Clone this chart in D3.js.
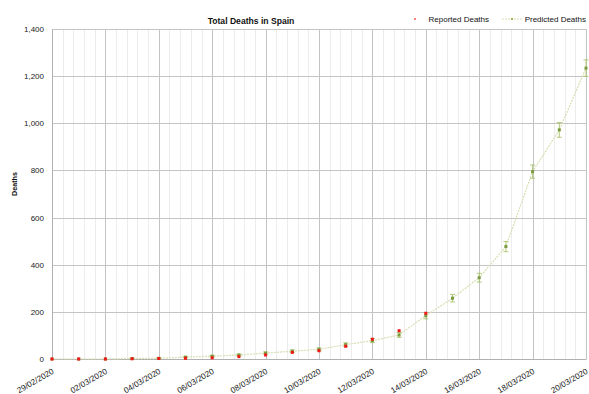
<!DOCTYPE html>
<html>
<head>
<meta charset="utf-8">
<script src="https://cdn.jsdelivr.net/npm/d3@7"></script>
<style>
  body { margin: 0; background: #fff; }
  svg { display: block; font-family: "Liberation Sans", Arial, sans-serif; }
</style>
</head>
<body>
<svg id="chart" width="589" height="394"></svg>
<script>
// Daily dates, 29 Feb to 20 Mar 2020
const dates = ["29/02/2020","01/03/2020","02/03/2020","03/03/2020","04/03/2020","05/03/2020",
  "06/03/2020","07/03/2020","08/03/2020","09/03/2020","10/03/2020","11/03/2020","12/03/2020",
  "13/03/2020","14/03/2020","15/03/2020","16/03/2020","17/03/2020","18/03/2020","19/03/2020","20/03/2020"];

// Cumulative deaths reported so far
const reported = [0, 0, 0, 1, 2, 3, 5, 10, 17, 28, 35, 54, 84, 120, 194];

// Model prediction and its uncertainty (±)
const predicted = [0, 0, 0, 2, 3, 8, 12, 17, 25, 33, 41, 61, 78, 102, 184, 258, 345, 477, 795, 972, 1234];
const predErr   = [0, 0, 0, 1.4, 1.7, 2.8, 3.5, 4.1, 5, 5.7, 6.4, 7.8, 8.8, 10.1, 13.6, 16, 18.6, 21.8, 28.2, 31.2, 35.1];

// Axis ticks
const yTicks = [0, 200, 400, 600, 800, 1000, 1200, 1400];
const xLabelEvery = 2;
const xMinorStep = 0.4;

const svg = d3.select("#chart");
const margin = { left: 52, right: 3, top: 29, bottom: 35 };
const W = 589, H = 394;

const x = d3.scaleLinear().domain([0, dates.length - 1]).range([margin.left, W - margin.right]);
const y = d3.scaleLinear().domain([0, 1400]).range([H - margin.bottom, margin.top]);

// Minor vertical gridlines
const minor = d3.range(0, dates.length - 1 + 1e-6, xMinorStep);
svg.append("g").selectAll("line").data(minor).join("line")
  .attr("x1", d => Math.round(x(d)) + 0.5).attr("x2", d => Math.round(x(d)) + 0.5)
  .attr("y1", y(0)).attr("y2", y(1400))
  .attr("stroke", "#ececec").attr("stroke-width", 1);

// Major vertical gridlines
const major = d3.range(0, dates.length, xLabelEvery);
svg.append("g").selectAll("line").data(major).join("line")
  .attr("x1", d => Math.round(x(d)) + 0.5).attr("x2", d => Math.round(x(d)) + 0.5)
  .attr("y1", y(0)).attr("y2", y(1400))
  .attr("stroke", "#c4c4c4").attr("stroke-width", 1);

// Horizontal gridlines
svg.append("g").selectAll("line").data(yTicks).join("line")
  .attr("x1", x(0)).attr("x2", x(dates.length - 1))
  .attr("y1", d => Math.round(y(d)) + 0.5).attr("y2", d => Math.round(y(d)) + 0.5)
  .attr("stroke", "#c4c4c4").attr("stroke-width", 1);

// Axes
const yAxis = d3.axisLeft(y).tickValues(yTicks).tickSize(0).tickPadding(8).tickFormat(d3.format(","));
const gy = svg.append("g").attr("transform", `translate(${margin.left},0)`).call(yAxis);
gy.select(".domain").attr("stroke", "#b0b0b0");
gy.selectAll("text").attr("font-size", 8).attr("fill", "#222");

const xAxis = d3.axisBottom(x).tickValues(major).tickSize(0).tickFormat(i => dates[i]);
const gx = svg.append("g").attr("transform", `translate(0,${y(0)})`).call(xAxis);
gx.select(".domain").attr("stroke", "#b0b0b0");
gx.selectAll("text")
  .attr("font-size", 8.2).attr("fill", "#222")
  .attr("text-anchor", "end")
  .attr("x", 0).attr("y", 0).attr("dy", 0)
  .attr("transform", "translate(2,14) rotate(-30)");

// Predicted line
const line = d3.line().x((d, i) => x(i)).y(d => y(d));
svg.append("path").datum(predicted)
  .attr("d", line).attr("fill", "none")
  .attr("stroke", "#d7dfb3").attr("stroke-width", 1.2)
  .attr("stroke-dasharray", "2,1");

// Error bars
const eb = svg.append("g").attr("stroke", "#a9c46c").attr("stroke-width", 0.9);
predicted.forEach((v, i) => {
  const e = predErr[i];
  if (!e) return;
  const cx = x(i);
  eb.append("line").attr("x1", cx).attr("x2", cx).attr("y1", y(v - e)).attr("y2", y(v + e));
  eb.append("line").attr("x1", cx - 2.5).attr("x2", cx + 2.5).attr("y1", y(v - e)).attr("y2", y(v - e));
  eb.append("line").attr("x1", cx - 2.5).attr("x2", cx + 2.5).attr("y1", y(v + e)).attr("y2", y(v + e));
});

// Predicted markers
svg.append("g").selectAll("rect").data(predicted).join("rect")
  .attr("x", (d, i) => x(i) - 1.5).attr("y", d => y(d) - 1.5)
  .attr("width", 3).attr("height", 3)
  .attr("fill", "#7a9a3e");

// Reported markers
svg.append("g").selectAll("rect").data(reported).join("rect")
  .attr("x", (d, i) => x(i) - 1.5).attr("y", d => y(d) - 1.5)
  .attr("width", 3).attr("height", 3)
  .attr("fill", "#f01818");

// Title
svg.append("text").attr("x", 251).attr("y", 24).attr("text-anchor", "middle")
  .attr("font-size", 8.6).attr("font-weight", "bold").attr("fill", "#111")
  .text("Total Deaths in Spain");

// Y axis title
svg.append("text").attr("transform", "translate(17,184) rotate(-90)")
  .attr("text-anchor", "middle").attr("font-size", 7.2).attr("font-weight", "bold").attr("fill", "#111")
  .text("Deaths");

// Legend
const lg = svg.append("g").attr("font-size", 8).attr("fill", "#111");
lg.append("rect").attr("x", 414).attr("y", 18).attr("width", 2).attr("height", 2).attr("fill", "#ff8080");
lg.append("text").attr("x", 489).attr("y", 22).attr("text-anchor", "end").text("Reported Deaths");
lg.append("line").attr("x1", 502).attr("x2", 522).attr("y1", 19).attr("y2", 19)
  .attr("stroke", "#d7dfb3").attr("stroke-width", 1.2).attr("stroke-dasharray", "2,1");
lg.append("rect").attr("x", 511).attr("y", 18).attr("width", 2).attr("height", 2).attr("fill", "#9bbb59");
lg.append("text").attr("x", 586).attr("y", 22).attr("text-anchor", "end").text("Predicted Deaths");
</script>
</body>
</html>
